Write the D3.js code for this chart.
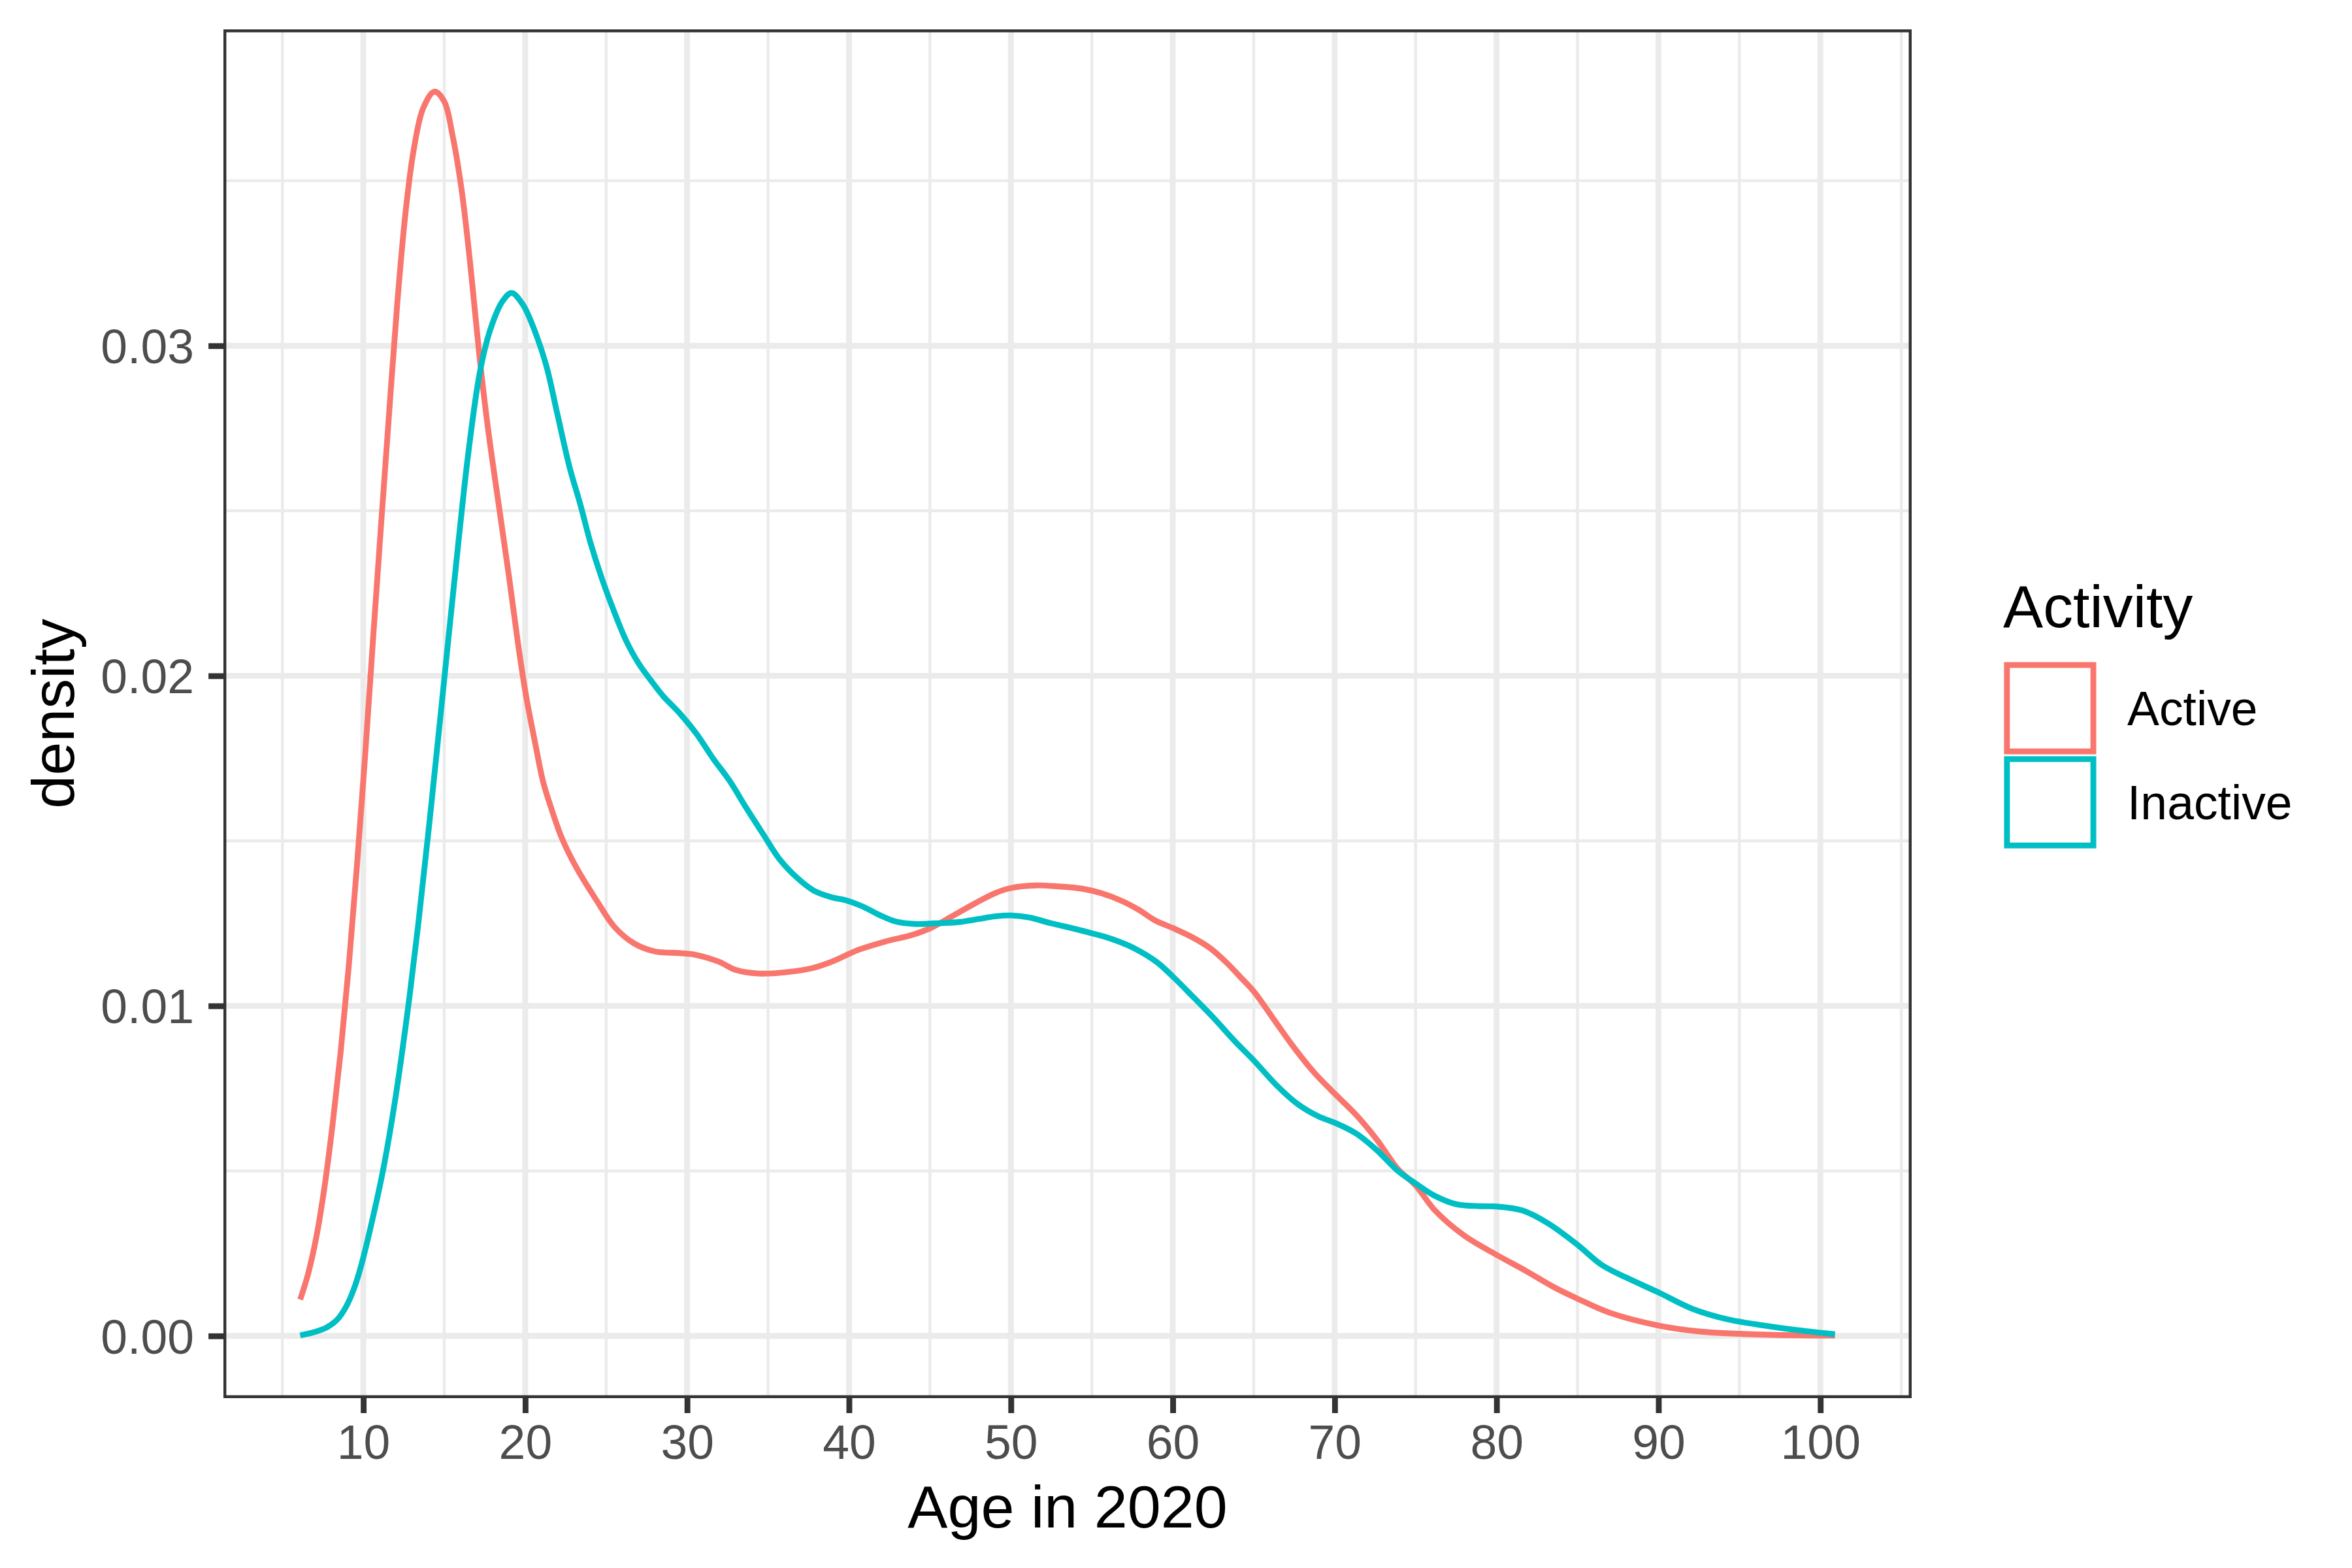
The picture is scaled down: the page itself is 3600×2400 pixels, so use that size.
<!DOCTYPE html>
<html>
<head>
<meta charset="utf-8">
<script src="https://cdn.jsdelivr.net/npm/d3@7"></script>
<style>
  html, body { margin: 0; padding: 0; background: #ffffff; }
  svg { display: block; }
  text { font-family: "Liberation Sans", Arial, Helvetica, sans-serif; }
</style>
</head>
<body>
<svg id="chart" width="3600" height="2400"></svg>
<script>
// ---------------- DATA ----------------
const seriesNames = ["Active", "Inactive"];
const seriesColors = ["#F8766D", "#00BFC4"];

const xTicks = [10, 20, 30, 40, 50, 60, 70, 80, 90, 100];
const xMinorTicks = [5, 15, 25, 35, 45, 55, 65, 75, 85, 95, 105];
const yTicks = [0.00, 0.01, 0.02, 0.03];
const yMinorTicks = [0.005, 0.015, 0.025, 0.035];
const yTickLabels = ["0.00", "0.01", "0.02", "0.03"];

const xTitle = "Age in 2020";
const yTitle = "density";
const legendTitle = "Activity";

// data range of the density estimate (ggplot pads it by 5%)
const xDataRange = [6.1, 100.9];
const yDataRange = [0, 0.03770];

// Active: [age, density]
const activeCurve = [
  [6.1, 0.00110], [6.6, 0.00190], [7.1, 0.00300], [7.6, 0.00450], [8.1, 0.00640],
  [8.6, 0.00860], [9.1, 0.01120], [9.6, 0.01420], [10.1, 0.01750], [10.6, 0.02110],
  [11.1, 0.02460], [11.6, 0.02800], [12.1, 0.03130], [12.6, 0.03400], [13.1, 0.03590],
  [13.7, 0.03720], [14.4, 0.03770], [15.0, 0.03740], [15.5, 0.03640], [16.05, 0.03480],
  [16.6, 0.03250], [17.15, 0.02980], [17.7, 0.02750], [18.3, 0.02540], [19.0, 0.02300],
  [19.55, 0.02100], [20.05, 0.01940], [20.6, 0.01800], [21.1, 0.01680], [21.6, 0.01600],
  [22.25, 0.01510], [23.15, 0.01420], [24.4, 0.01320], [25.5, 0.01240], [26.7, 0.01190],
  [28.0, 0.01165], [29.5, 0.01160], [30.5, 0.01155], [31.95, 0.01134], [33.0, 0.01109],
  [34.4, 0.01098], [36.1, 0.01102], [37.7, 0.01114], [38.95, 0.01134], [40.6, 0.01170],
  [42.25, 0.01195], [43.9, 0.01215], [45.1, 0.01237], [46.35, 0.01271], [47.8, 0.01311],
  [49.0, 0.01341], [50.0, 0.01357], [51.5, 0.01365], [52.9, 0.01362], [54.4, 0.01355],
  [55.6, 0.01341], [56.85, 0.01318], [57.9, 0.01291], [58.9, 0.01259], [60.0, 0.01236],
  [61.2, 0.01208], [62.3, 0.01175], [63.3, 0.01132], [64.2, 0.01086], [65.0, 0.01044],
  [66.2, 0.00962], [67.5, 0.00873], [68.75, 0.00797], [70.0, 0.00734], [71.3, 0.00671],
  [72.6, 0.00595], [73.9, 0.00506], [75.0, 0.00456], [76.2, 0.00380], [78.0, 0.00304],
  [79.95, 0.00247], [81.85, 0.00196], [83.65, 0.00145], [84.95, 0.00114], [87.0, 0.00070],
  [89.95, 0.00032], [92.65, 0.00013], [96.45, 0.00004], [100.9, 0.00001]
];

// Inactive: [age, density]
const inactiveCurve = [
  [6.1, 0.00002], [7.0, 0.00012], [7.75, 0.00026], [8.4, 0.00050], [8.95, 0.00090],
  [9.4, 0.00140], [9.85, 0.00210], [10.55, 0.00350], [11.25, 0.00510], [11.95, 0.00710],
  [12.7, 0.00970], [13.4, 0.01250], [14.2, 0.01610], [15.0, 0.01990], [15.8, 0.02370],
  [16.5, 0.02680], [17.2, 0.02920], [17.85, 0.03050], [18.6, 0.03135], [19.16, 0.03160],
  [19.85, 0.03125], [20.55, 0.03050], [21.3, 0.02940], [22.0, 0.02790], [22.75, 0.02630],
  [23.4, 0.02520], [24.05, 0.02400], [24.7, 0.02300], [25.45, 0.02200], [26.2, 0.02110],
  [27.0, 0.02038], [27.75, 0.01987], [28.55, 0.01937], [29.55, 0.01886], [30.6, 0.01823],
  [31.6, 0.01750], [32.65, 0.01680], [33.65, 0.01600], [34.7, 0.01520], [35.7, 0.01445],
  [36.75, 0.01390], [37.8, 0.01350], [39.0, 0.01328], [39.8, 0.01320], [40.8, 0.01302],
  [41.85, 0.01276], [42.85, 0.01256], [44.1, 0.01248], [45.3, 0.01250], [46.8, 0.01254],
  [48.0, 0.01263], [49.0, 0.01271], [50.0, 0.01274], [51.1, 0.01268], [52.5, 0.01250],
  [53.8, 0.01235], [55.0, 0.01220], [56.2, 0.01203], [57.6, 0.01175], [59.0, 0.01133],
  [60.0, 0.01089], [61.3, 0.01025], [62.55, 0.00962], [63.85, 0.00892], [65.0, 0.00835],
  [66.4, 0.00760], [67.7, 0.00703], [69.0, 0.00665], [70.0, 0.00646], [71.3, 0.00614],
  [72.6, 0.00563], [73.9, 0.00500], [75.0, 0.00462], [76.2, 0.00424], [77.5, 0.00399],
  [79.0, 0.00393], [80.0, 0.00392], [81.6, 0.00380], [83.15, 0.00342], [84.95, 0.00278],
  [86.5, 0.00215], [88.0, 0.00177], [89.95, 0.00133], [92.1, 0.00082], [94.2, 0.00051],
  [96.45, 0.00032], [98.5, 0.00018], [100.9, 0.00005]
];

const curves = [activeCurve, inactiveCurve];

// ---------------- LAYOUT ----------------
const W = 3600, H = 2400;
const panel = { left: 342, right: 2926, top: 45, bottom: 2140 };
const LW = 8.89;           // 0.5 mm at 600 dpi
const tickLen = 22.9;
const fsTick = 73.3, fsTitle = 91.7;

const svg = d3.select("#chart");
svg.append("rect").attr("width", W).attr("height", H).attr("fill", "#ffffff");

function expand(r) { const d = r[1] - r[0]; return [r[0] - 0.05 * d, r[1] + 0.05 * d]; }

const x = d3.scaleLinear().domain(expand(xDataRange)).range([panel.left, panel.right]);
const y = d3.scaleLinear().domain(expand(yDataRange)).range([panel.bottom, panel.top]);

// clip for panel
svg.append("defs").append("clipPath").attr("id", "pclip")
  .append("rect").attr("x", panel.left).attr("y", panel.top)
  .attr("width", panel.right - panel.left).attr("height", panel.bottom - panel.top);

const pg = svg.append("g").attr("clip-path", "url(#pclip)");

// minor grid
pg.selectAll("line.vminor").data(xMinorTicks).enter().append("line")
  .attr("x1", d => x(d)).attr("x2", d => x(d))
  .attr("y1", panel.top).attr("y2", panel.bottom)
  .attr("stroke", "#EBEBEB").attr("stroke-width", LW / 2);
pg.selectAll("line.hminor").data(yMinorTicks).enter().append("line")
  .attr("y1", d => y(d)).attr("y2", d => y(d))
  .attr("x1", panel.left).attr("x2", panel.right)
  .attr("stroke", "#EBEBEB").attr("stroke-width", LW / 2);
// major grid
pg.selectAll("line.vmajor").data(xTicks).enter().append("line")
  .attr("x1", d => x(d)).attr("x2", d => x(d))
  .attr("y1", panel.top).attr("y2", panel.bottom)
  .attr("stroke", "#EBEBEB").attr("stroke-width", LW);
pg.selectAll("line.hmajor").data(yTicks).enter().append("line")
  .attr("y1", d => y(d)).attr("y2", d => y(d))
  .attr("x1", panel.left).attr("x2", panel.right)
  .attr("stroke", "#EBEBEB").attr("stroke-width", LW);

// density lines
const line = d3.line().x(d => x(d[0])).y(d => y(d[1])).curve(d3.curveCatmullRom.alpha(0.5));
pg.selectAll("path.dens").data(curves).enter().append("path")
  .attr("d", d => line(d))
  .attr("fill", "none")
  .attr("stroke", (d, i) => seriesColors[i])
  .attr("stroke-width", LW)
  .attr("stroke-linejoin", "round");

// panel border (clipped half)
pg.append("rect")
  .attr("x", panel.left).attr("y", panel.top)
  .attr("width", panel.right - panel.left).attr("height", panel.bottom - panel.top)
  .attr("fill", "none").attr("stroke", "#333333").attr("stroke-width", LW);

// ---------------- AXES ----------------
const xAxis = d3.axisBottom(x).tickValues(xTicks).tickSize(tickLen).tickPadding(0).tickFormat(d3.format("d"));
const gx = svg.append("g").attr("transform", `translate(0,${panel.bottom})`).call(xAxis);
gx.select(".domain").remove();
gx.selectAll(".tick line").attr("stroke", "#333333").attr("stroke-width", LW);
gx.selectAll(".tick text")
  .attr("y", 93).attr("dy", null)
  .attr("fill", "#4D4D4D").attr("font-size", fsTick)
  .attr("font-family", "Liberation Sans, Arial, sans-serif");

const yAxis = d3.axisLeft(y).tickValues(yTicks).tickSize(tickLen).tickPadding(0)
  .tickFormat((d, i) => yTickLabels[i]);
const gy = svg.append("g").attr("transform", `translate(${panel.left},0)`).call(yAxis);
gy.select(".domain").remove();
gy.selectAll(".tick line").attr("stroke", "#333333").attr("stroke-width", LW);
gy.selectAll(".tick text")
  .attr("x", -45).attr("dy", "0.358em")
  .attr("fill", "#4D4D4D").attr("font-size", fsTick)
  .attr("font-family", "Liberation Sans, Arial, sans-serif");

// axis titles
svg.append("text")
  .attr("x", (panel.left + panel.right) / 2).attr("y", 2338)
  .attr("text-anchor", "middle").attr("font-size", fsTitle).attr("fill", "#000000")
  .text(xTitle);
svg.append("text")
  .attr("transform", `translate(113,${(panel.top + panel.bottom) / 2}) rotate(-90)`)
  .attr("text-anchor", "middle").attr("font-size", fsTitle).attr("fill", "#000000")
  .text(yTitle);

// ---------------- LEGEND ----------------
const legX = 3066, legTitleY = 960, keyTop = 1012, keySize = 144;
const lg = svg.append("g");
lg.append("text").attr("x", legX).attr("y", legTitleY)
  .attr("font-size", fsTitle).attr("fill", "#000000").text(legendTitle);
const inset = 5.9;
const items = lg.selectAll("g.item").data(seriesNames).enter().append("g")
  .attr("transform", (d, i) => `translate(${legX},${keyTop + i * keySize})`);
items.append("rect")
  .attr("x", inset).attr("y", inset)
  .attr("width", keySize - 2 * inset).attr("height", keySize - 2 * inset)
  .attr("fill", "none")
  .attr("stroke", (d, i) => seriesColors[i])
  .attr("stroke-width", LW);
items.append("text")
  .attr("x", 3256 - legX).attr("y", keySize / 2).attr("dy", "0.358em")
  .attr("font-size", fsTick).attr("fill", "#000000")
  .text(d => d);
</script>
</body>
</html>
